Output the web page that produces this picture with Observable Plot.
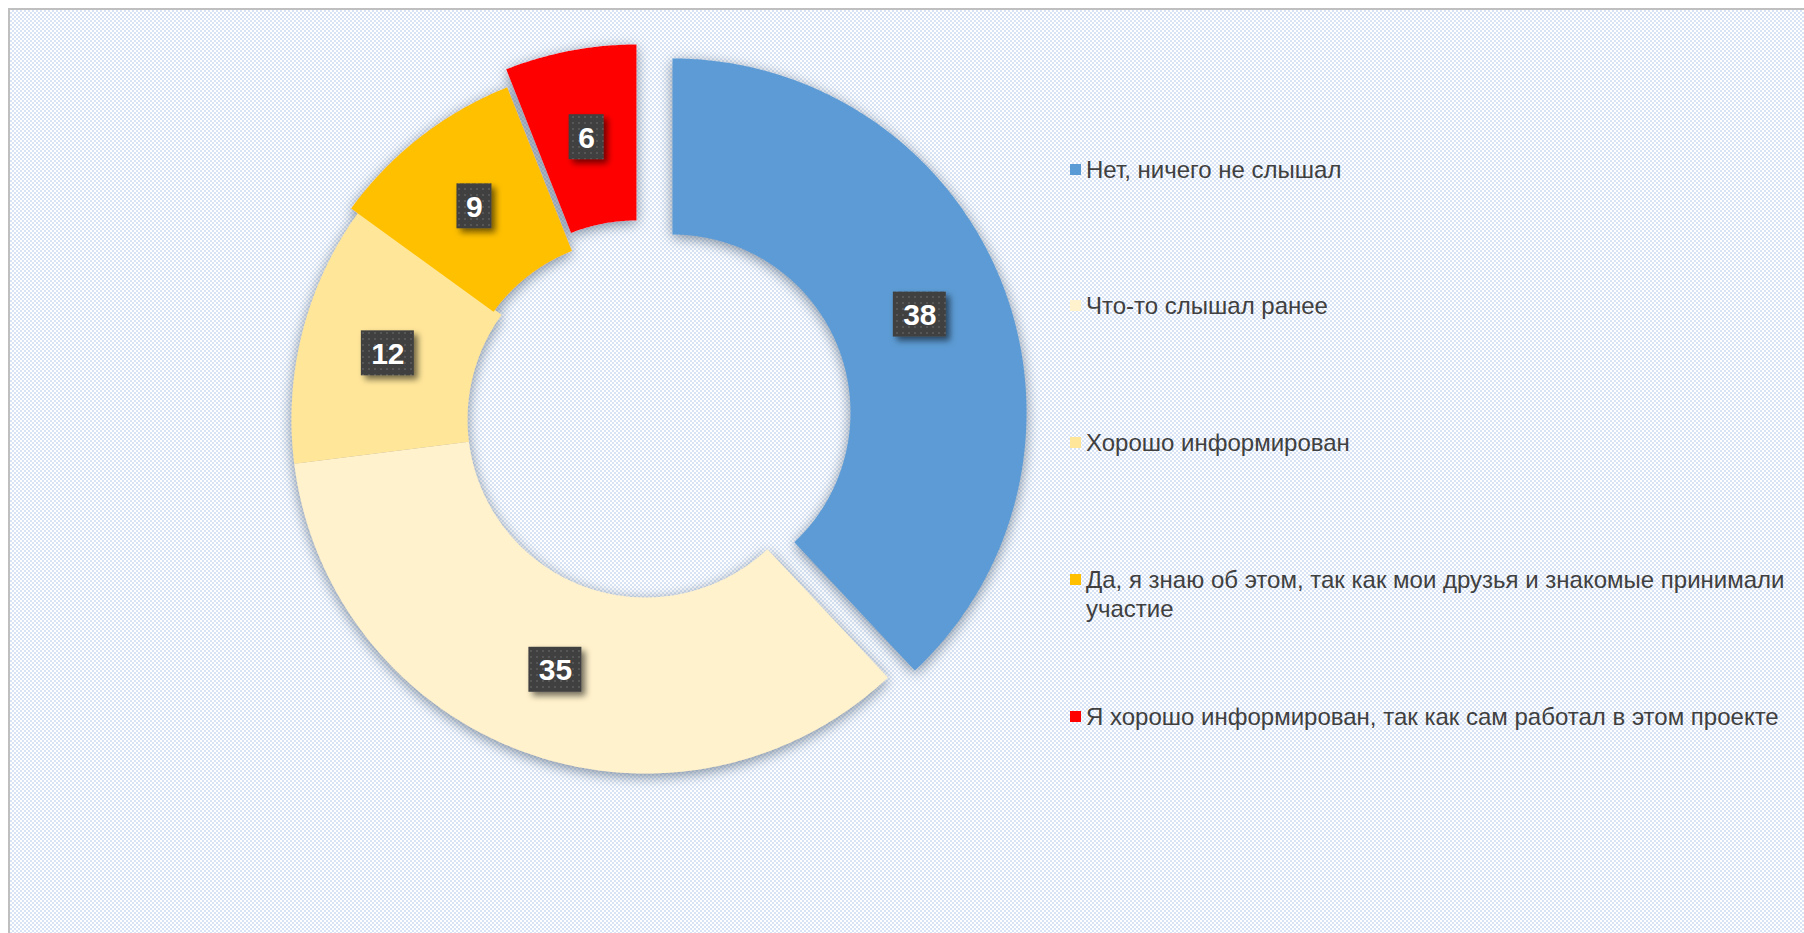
<!DOCTYPE html>
<html>
<head>
<meta charset="utf-8">
<script src="https://cdn.jsdelivr.net/npm/d3@7"></script>
<script src="https://cdn.jsdelivr.net/npm/@observablehq/plot@0.6"></script>
<style>
  html, body { margin: 0; padding: 0; background: #ffffff; }
  #wrap { position: relative; width: 1804px; height: 933px; overflow: hidden; font-family: "Liberation Sans", Arial, sans-serif; }
  #frame { position: absolute; left: 8px; top: 8px; right: 0; bottom: 0;
    border-top: 2px solid #bfbfbf; border-left: 2px solid #bfbfbf;
    background: repeating-conic-gradient(#d8e4f6 0% 25%, #ffffff 0% 50%) 0 0 / 4px 4px; }
  #chart { position: absolute; left: 0; top: 0; }
  .legend-item { position: absolute; left: 1070px; display: flex; align-items: flex-start;
    font-size: 24px; line-height: 29px; color: #404040; }
  .legend-item .sw { width: 11px; height: 11px; margin-top: 9px; margin-right: 5px; flex: none; }
  .legend-item .tx { max-width: 740px; }
</style>
</head>
<body>
<div id="wrap">
  <div id="frame"></div>
  <div id="chart"></div>
  <div id="legend"></div>
</div>
<script>
// ---- data ----
const categories = [
  "Нет, ничего не слышал",
  "Что-то слышал ранее",
  "Хорошо информирован",
  "Да, я знаю об этом, так как мои друзья и знакомые принимали участие",
  "Я хорошо информирован, так как сам работал в этом проекте"
];
const values = [38, 35, 12, 9, 6];
const colors = ["#5B9BD5", "#FFF2CC", "#FFE699", "#FFC000", "#FF0000"];

// ---- style: exploded-slice offsets in px (right, up) ----
const explodeDX = [27, 0, 0, -8, -9];
const explodeDY = [7, 0, 0, 3, 21];

// ---- geometry (style) ----
const W = 1804, H = 933;
const cx = 645, cy = 419, R = 354, r = 178;

const total = d3.sum(values);
let acc = 0;
const slices = categories.map((c, i) => {
  const a0 = acc / total * 2 * Math.PI;
  acc += values[i];
  const a1 = acc / total * 2 * Math.PI;
  const mid = (a0 + a1) / 2;
  return {cat: c, value: values[i], a0, a1, mid, ox: explodeDX[i], oy: explodeDY[i]};
});

const pts = [];
for (const s of slices) {
  const n = Math.max(2, Math.ceil((s.a1 - s.a0) / (Math.PI / 360)));
  for (let k = 0; k <= n; k++) {
    const a = s.a0 + (s.a1 - s.a0) * k / n;
    pts.push({cat: s.cat, x: s.ox + R * Math.sin(a), y: s.oy + R * Math.cos(a)});
  }
  for (let k = n; k >= 0; k--) {
    const a = s.a0 + (s.a1 - s.a0) * k / n;
    pts.push({cat: s.cat, x: s.ox + r * Math.sin(a), y: s.oy + r * Math.cos(a)});
  }
}

const rm = (R + r) / 2;
const labs = slices.map(s => ({
  label: String(s.value),
  x: s.ox + rm * Math.sin(s.mid),
  y: s.oy + rm * Math.cos(s.mid)
}));

const boxMark = (data, hw) => Plot.rect(data, {
  x1: "x", x2: "x", y1: "y", y2: "y",
  insetLeft: -hw, insetRight: -hw, insetTop: -22.5, insetBottom: -22.5,
  fill: "url(#dots)"
});

const svg = Plot.plot({
  width: W, height: H, margin: 0,
  style: {background: "transparent", overflow: "visible"},
  x: {domain: [-cx, W - cx], range: [0, W], axis: null},
  y: {domain: [-(H - cy), cy], range: [H, 0], axis: null},
  color: {domain: categories, range: colors},
  marks: [
    Plot.line(pts, {x: "x", y: "y", z: "cat", fill: "cat", stroke: "none", curve: "linear-closed"}),
    boxMark(labs.filter(d => d.label.length > 1), 26.5),
    boxMark(labs.filter(d => d.label.length === 1), 17.5),
    Plot.text(labs, {x: "x", y: "y", text: "label", fill: "white", fontSize: 30, fontWeight: "bold",
      fontFamily: "Liberation Sans, Arial, sans-serif", dy: 1})
  ]
});

// defs: shadows + dotted label pattern
const defs = d3.select(svg).insert("defs", ":first-child");
const f1 = defs.append("filter").attr("id", "sliceShadow")
  .attr("x", "-10%").attr("y", "-10%").attr("width", "120%").attr("height", "120%");
f1.append("feDropShadow").attr("dx", 0).attr("dy", 3).attr("stdDeviation", 7)
  .attr("flood-color", "#55687f").attr("flood-opacity", 0.75);
const f2 = defs.append("filter").attr("id", "boxShadow")
  .attr("x", "-30%").attr("y", "-30%").attr("width", "160%").attr("height", "160%");
f2.append("feDropShadow").attr("dx", 4).attr("dy", 4).attr("stdDeviation", 3)
  .attr("flood-color", "#000").attr("flood-opacity", 0.55);
const pat = defs.append("pattern").attr("id", "dots").attr("patternUnits", "userSpaceOnUse")
  .attr("width", 6).attr("height", 6);
pat.append("rect").attr("width", 6).attr("height", 6).attr("fill", "#404040");
pat.append("rect").attr("x", 2).attr("y", 2).attr("width", 2).attr("height", 2).attr("fill", "#575757");

d3.select(svg).selectAll('g[aria-label="line"]').attr("filter", "url(#sliceShadow)");
d3.select(svg).selectAll('g[aria-label="rect"]').attr("filter", "url(#boxShadow)");

document.getElementById("chart").appendChild(svg);

// legend
const legend = d3.select("#legend");
categories.forEach((c, i) => {
  const item = legend.append("div").attr("class", "legend-item")
    .style("top", (169 + i * 136.75 - 14.5) + "px");
  item.append("div").attr("class", "sw").style("background", colors[i]);
  item.append("div").attr("class", "tx").text(c);
});
</script>
</body>
</html>
